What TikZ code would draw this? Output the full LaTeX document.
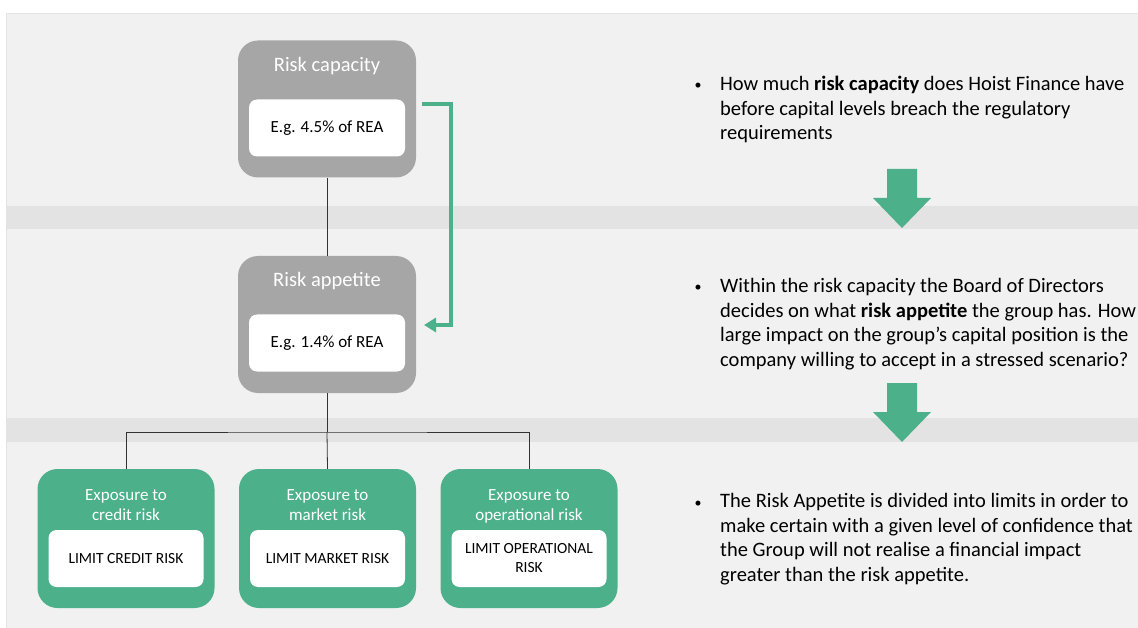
\documentclass[tikz,border=0pt]{standalone}
\usepackage{fontspec}
\setmainfont{Carlito}
\usepackage{xcolor}
\usetikzlibrary{positioning,calc,arrows.meta}
\definecolor{grn}{HTML}{4CB08A}
\definecolor{boxgray}{HTML}{A6A6A6}
\definecolor{band}{HTML}{F1F1F1}
\definecolor{bandd}{HTML}{E3E3E3}

\begin{document}
\begin{tikzpicture}[x=1pt,y=-1pt,
    grybox/.style={fill=boxgray, rounded corners=20pt, inner sep=0pt, minimum width=178pt, minimum height=137pt},
    grnbox/.style={fill=grn, rounded corners=20pt, inner sep=0pt, minimum width=177pt, minimum height=139pt},
    valbox/.style={fill=white, rounded corners=8pt, inner sep=0pt, minimum width=156pt, minimum height=57pt, font=\fontsize{17}{20}\selectfont},
    limbox/.style={fill=white, rounded corners=8pt, inner sep=0pt, minimum width=155pt, minimum height=57pt, align=center, font=\fontsize{15.5}{19}\selectfont},
    head/.style={text=white, inner sep=0pt, anchor=base, font=\fontsize{20.5}{22}\selectfont},
    sub/.style={text=white, inner sep=0pt, anchor=north, align=center, font=\fontsize{17}{20.5}\selectfont},
    link/.style={draw=black!80, line width=0.8pt},
    flow/.style={draw=grn, line width=3.5pt, -{Triangle[width=14pt,length=12pt]}},
    note/.style={inner sep=0pt, anchor=north west, align=left, font=\fontsize{20.5}{24.6}\selectfont},
    dot/.style={inner sep=0pt, anchor=base, font=\fontsize{14}{16}\selectfont}]
    \useasboundingbox (0,0) rectangle (1138,628);

    % Background bands
    \fill[band] (6,13) rectangle (1138,628);
    \draw[bandd, line width=0.6pt] (1138,13) -- (6,13) -- (6,628);
    \fill[bandd] (6,206) rectangle (1138,229);
    \fill[bandd] (6,418) rectangle (1138,442);

    % Risk capacity
    \node[grybox] (cap) at (327,109) {};
    \node[head] (capt) at (327,72) {Risk capacity};
    \node[valbox] (capval) at (327,128) {E.g. 4.5\% of REA};

    % Risk appetite
    \node[grybox] (app) at (327,324.5) {};
    \node[head] (appt) at (327,287) {Risk appetite};
    \node[valbox] (appval) at (327,343) {E.g. 1.4\% of REA};

    % Exposures
    \node[grnbox] (credit) at (126,538.5) {};
    \node[sub] (creditt) at (126,489) {Exposure to\\credit risk};
    \node[limbox] (creditval) at (126,558.5) {LIMIT CREDIT RISK};

    \node[grnbox] (market) at (327.5,538.5) {};
    \node[sub] (markett) at (327.5,489) {Exposure to\\market risk};
    \node[limbox] (marketval) at (327.5,558.5) {LIMIT MARKET RISK};

    \node[grnbox] (opr) at (529,538.5) {};
    \node[sub] (oprt) at (529,489) {Exposure to\\operational risk};
    \node[limbox] (oprval) at (529,558.5) {LIMIT OPERATIONAL\\RISK};

    % Connectors
    \coordinate (split) at (327,432);
    \draw[link] (cap) -- (app);
    \draw[link] (app.south) -- (split);
    \draw[link] (credit.north) |- (split) -| (opr.north);
    \draw[link] (split) -- (market.north);

    % Green feedback arrow
    \coordinate (fstart) at (422,104);
    \coordinate (fend) at (424,325);
    \draw[flow] (fstart) -- (451,104) |- (fend);

    % Block arrows
    \foreach \dy in {0,214}
      \fill[grn, shift={(0,\dy)}] (887,169) -- (917,169) -- (917,198) -- (931,198)
        -- (902,228) -- (873,198) -- (887,198) -- cycle;

    % Notes
    \node[dot] (b1) at (698,90) {•};
    \node[note] (t1) at (720,76) {How much \textbf{risk capacity} does Hoist Finance have\\before capital levels breach the regulatory\\requirements};
    \node[dot] (b2) at (698,292) {•};
    \node[note] (t2) at (720,278) {Within the risk capacity the Board of Directors\\decides on what \textbf{risk appetite} the group has. How\\large impact on the group’s capital position is the\\company willing to accept in a stressed scenario?};
    \node[dot] (b3) at (698,507) {•};
    \node[note] (t3) at (720,493) {The Risk Appetite is divided into limits in order to\\make certain with a given level of confidence that\\the Group will not realise a financial impact\\greater than the risk appetite.};
\end{tikzpicture}
\end{document}
